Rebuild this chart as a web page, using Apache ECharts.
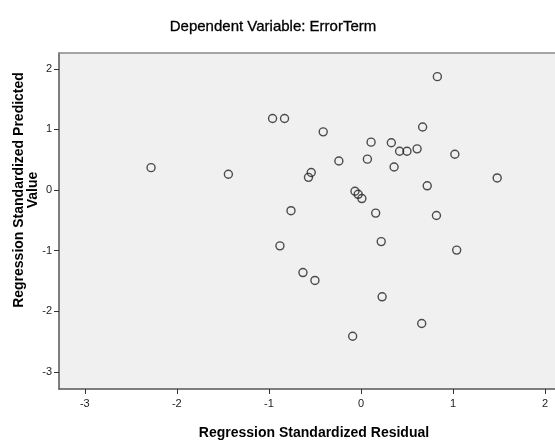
<!DOCTYPE html>
<html>
<head>
<meta charset="utf-8">
<script src="https://cdn.jsdelivr.net/npm/echarts@6/dist/echarts.min.js"></script>
<style>html,body{margin:0;padding:0;background:#fff;}#c{width:555px;height:440px;}</style>
</head>
<body>
<div id="c"></div>
<script>
// Regression standardized residual (x) and standardized predicted value (y)
const residuals = [-2.28, -1.44, -0.96, -0.83, -0.76, 0.83, -0.41, 0.67, 0.11, 0.33, 0.42, 0.50, 0.61, 1.02, -0.24, 0.07, 0.36, -0.54, -0.57, 1.48, -0.065, -0.03, 0.01, 0.72, 0.16, 0.82, 0.22, 1.04, -0.63, -0.50, 0.23, 0.66, -0.09, -0.88];
const predicted = [0.37, 0.26, 1.18, 1.18, -0.34, 1.87, 0.96, 1.04, 0.79, 0.78, 0.64, 0.64, 0.68, 0.59, 0.48, 0.51, 0.38, 0.29, 0.21, 0.20, -0.02, -0.07, -0.14, 0.07, -0.38, -0.42, -0.85, -0.99, -1.36, -1.49, -1.76, -2.20, -2.41, -0.92];
const xTicks = [-3, -2, -1, 0, 1, 2];
const yTicks = [-3, -2, -1, 0, 1, 2];
const titleText = 'Dependent Variable: ErrorTerm';
const xName = 'Regression Standardized Residual';
const yName = 'Regression Standardized Predicted\nValue';

const points = residuals.map((v, i) => [v, predicted[i]]);
const font = '"Liberation Sans", Arial, sans-serif';
const chart = echarts.init(document.getElementById('c'), null, {renderer: 'canvas'});
chart.setOption({
  animation: false,
  backgroundColor: '#ffffff',
  title: {
    text: titleText, left: 268, top: 14, textAlign: 'center',
    textStyle: {fontFamily: font, fontSize: 15, fontWeight: 'normal', color: '#000', textBorderColor: '#000', textBorderWidth: 0.3}
  },
  grid: {left: 59, top: 53, bottom: 51, right: -14, show: true, outerBoundsMode: 'none', containLabel: false,
         backgroundColor: '#f0f0f0', borderWidth: 0},
  xAxis: [{
    type: 'value', min: -3.28, max: 2.26,
    axisLine: {show: true, onZero: false, lineStyle: {color: '#555', width: 1.5}},
    axisTick: {show: true, customValues: xTicks, length: 5, lineStyle: {color: '#333'}},
    axisLabel: {customValues: xTicks, margin: 9, fontFamily: font, fontSize: 11, color: '#222'},
    splitLine: {show: false},
    name: xName, nameLocation: 'middle', nameGap: 37,
    nameTextStyle: {fontFamily: font, fontSize: 14, fontWeight: 'bold', color: '#000'}
  }, {
    type: 'value', position: 'top', min: -3.28, max: 2.26,
    axisLine: {show: true, onZero: false, lineStyle: {color: '#888', width: 1.5}},
    axisTick: {show: false}, axisLabel: {show: false}, splitLine: {show: false}
  }],
  yAxis: {
    type: 'value', min: -3.28, max: 2.26,
    axisLine: {show: true, onZero: false, lineStyle: {color: '#555', width: 1.5}},
    axisTick: {show: true, customValues: yTicks, length: 5, lineStyle: {color: '#333'}},
    axisLabel: {customValues: yTicks, margin: 7, fontFamily: font, fontSize: 11, color: '#222'},
    splitLine: {show: false}
  },
  graphic: [{
    type: 'text', x: 26, y: 190, rotation: Math.PI / 2,
    style: {text: yName, fontFamily: font, fontSize: 14, fontWeight: 'bold', fill: '#000',
            align: 'center', verticalAlign: 'middle', lineHeight: 14}
  }],
  series: [{
    type: 'scatter', data: points, symbol: 'circle', symbolSize: 8, xAxisIndex: 0,
    itemStyle: {color: 'rgba(0,0,0,0)', borderColor: '#222', borderWidth: 1.4}
  }]
});
</script>
</body>
</html>
